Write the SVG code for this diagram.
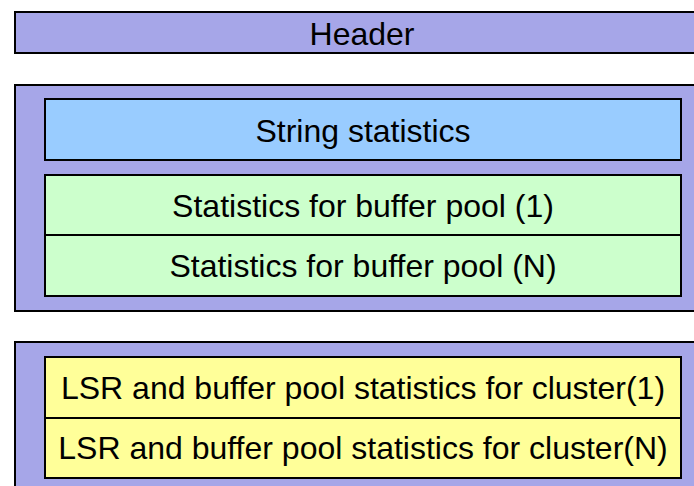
<svg xmlns="http://www.w3.org/2000/svg" width="694" height="486" viewBox="0 0 694 486">
  <style>
    .box { stroke: #000; stroke-width: 2; }
    .frame { fill: #a6a6e8; }
    .str { fill: #99ccff; }
    .pool { fill: #ccffcc; }
    .lsr { fill: #ffff99; }
    text { font-family: "Liberation Sans", Arial, sans-serif; font-size: 32px; fill: #000; text-anchor: middle; }
  </style>
  <rect width="694" height="486" fill="#fff"/>

  <g id="header">
    <rect class="box frame" x="15" y="12" width="690" height="41"/>
    <text x="362" y="45">Header</text>
  </g>

  <g id="pool-section">
    <rect class="box frame" x="15" y="85" width="690" height="226"/>
  </g>
  <g id="string-stats">
    <rect class="box str" x="45" y="99" width="636" height="61"/>
    <text x="363" y="142">String statistics</text>
  </g>
  <g id="pool-stats-1">
    <rect class="box pool" x="45" y="175" width="636" height="60"/>
    <text x="363" y="217">Statistics for buffer pool (1)</text>
  </g>
  <g id="pool-stats-n">
    <rect class="box pool" x="45" y="235" width="636" height="61"/>
    <text x="363" y="277">Statistics for buffer pool (N)</text>
  </g>

  <g id="cluster-section">
    <rect class="box frame" x="15" y="342" width="690" height="160"/>
  </g>
  <g id="cluster-stats-1">
    <rect class="box lsr" x="45" y="357" width="636" height="61"/>
    <text x="363" y="399">LSR and buffer pool statistics for cluster(1)</text>
  </g>
  <g id="cluster-stats-n">
    <rect class="box lsr" x="45" y="418" width="636" height="60"/>
    <text x="363" y="459">LSR and buffer pool statistics for cluster(N)</text>
  </g>

  <g id="connectors"></g>
</svg>
